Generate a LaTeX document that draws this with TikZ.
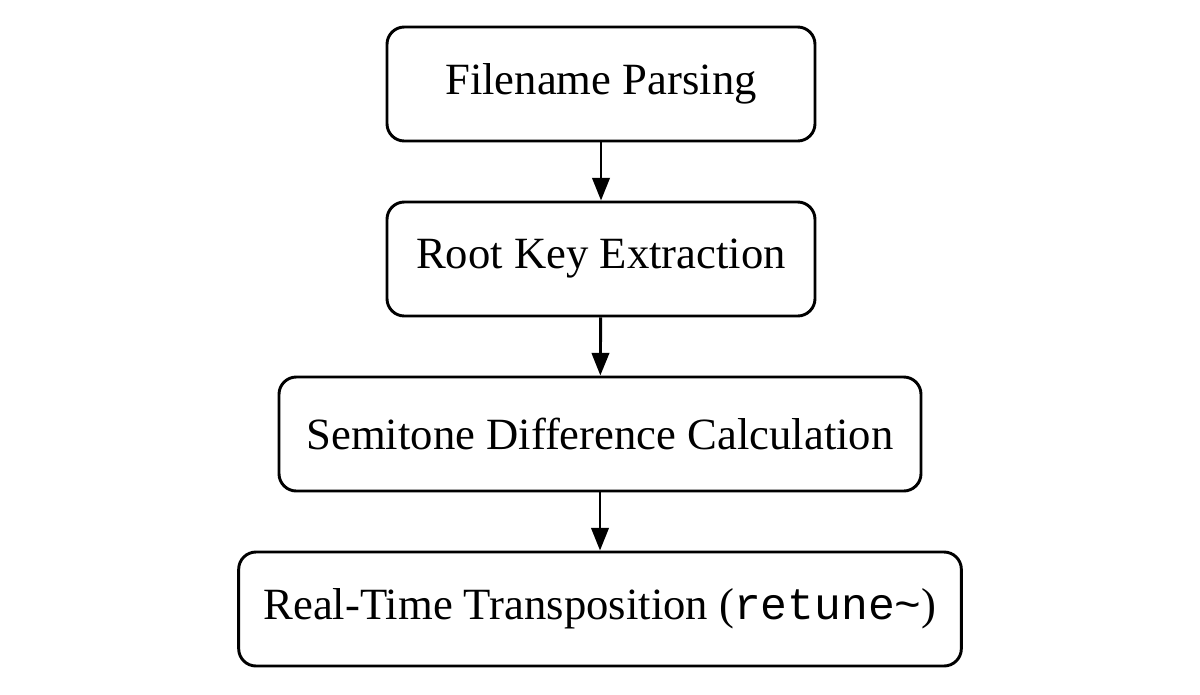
\documentclass[tikz,border=0pt]{standalone}
\usepackage{fontspec}
\setmainfont{Liberation Serif}
\setmonofont{Liberation Mono}
\usetikzlibrary{arrows.meta}
\begin{document}
\begin{tikzpicture}[x=0.75pt,y=-0.75pt,
  box/.style={draw,line width=2.2pt,rounded corners=13pt,font=\fontsize{33.5}{38}\selectfont,inner sep=0pt},
  arr/.style={line width=2.2pt,-{Triangle[length=17pt,width=13pt]}}]
\useasboundingbox (0,0) rectangle (1200,694);
\node[box,minimum width=321pt,minimum height=85.5pt] (a) at (601,84) {Filename Parsing};
\node[box,minimum width=321pt,minimum height=85.5pt] (b) at (601,259) {Root Key Extraction};
\node[box,minimum width=481.5pt,minimum height=85.5pt] (c) at (600,434) {Semitone Difference Calculation};
\node[box,minimum width=542pt,minimum height=85.5pt] (d) at (600,609) {Real-Time Transposition (\texttt{retune\char`~})};
\draw[arr] (a) -- (b);
\draw[arr] (b) -- (c);
\draw[arr] (c) -- (d);
\end{tikzpicture}
\end{document}
